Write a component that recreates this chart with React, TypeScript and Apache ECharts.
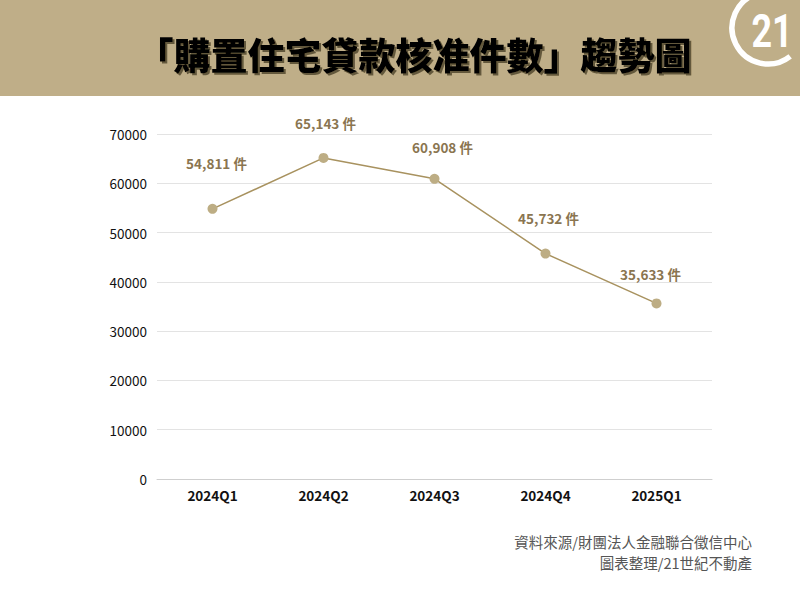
import React, { useEffect, useRef } from "react";
import * as echarts from "echarts";

const categories = ["2024Q1", "2024Q2", "2024Q3", "2024Q4", "2025Q1"];
const approvals = [54811, 65143, 60908, 45732, 35633];
const yTicks = [0, 10000, 20000, 30000, 40000, 50000, 60000, 70000];
const titleText = "「購置住宅貸款核准件數」趨勢圖";
const sourceLines = ["資料來源/財團法人金融聯合徵信中心", "圖表整理/21世紀不動產"];
const unit = "件";

const FONT = "'Noto Sans CJK TC', 'Noto Sans', sans-serif";

export default function App() {
  const ref = useRef<HTMLDivElement>(null);
  useEffect(() => {
    if (!ref.current) return;
    const chart = echarts.init(ref.current, null, { renderer: "svg" });
    const labelShift = [[4, -12], [2, -1], [8, 2], [3, -2], [-6, 4]];
    chart.setOption({
      animation: false,
      backgroundColor: "#ffffff",
      textStyle: { fontFamily: FONT },
      grid: { left: 157, right: 88, top: 134, bottom: 121 },
      xAxis: {
        type: "category",
        data: categories,
        boundaryGap: true,
        axisLine: { show: true, lineStyle: { color: "#cfcfcf", width: 1 } },
        axisTick: { show: false },
        axisLabel: { color: "#111", fontSize: 13.5, fontWeight: "bold", margin: 9, fontFamily: FONT },
      },
      yAxis: {
        type: "value",
        min: yTicks[0],
        max: yTicks[yTicks.length - 1],
        interval: 10000,
        axisLine: { show: false },
        axisTick: { show: false },
        axisLabel: {
          color: "#111",
          fontSize: 13.5,
          margin: 10,
          fontFamily: FONT,
          formatter: (v: number) => String(v),
        },
        splitLine: { lineStyle: { color: "#e3e3e3", width: 1 } },
      },
      series: [
        {
          type: "line",
          data: approvals.map((v, i) => ({
            value: v,
            label: { offset: labelShift[i] },
          })),
          symbol: "circle",
          symbolSize: 10,
          itemStyle: { color: "#bdad84" },
          lineStyle: { color: "#a8925f", width: 1.5 },
          label: {
            show: true,
            position: "top",
            distance: 22,
            color: "#8a7550",
            fontSize: 13.5,
            fontWeight: "bold",
            fontFamily: FONT,
            formatter: (p: any) => p.value.toLocaleString("en-US") + " " + unit,
          },
        },
      ],
      graphic: [
        {
          type: "rect",
          shape: { x: 0, y: 0, width: 800, height: 96 },
          style: { fill: "#bfae88" },
          z: -10,
        },
        {
          type: "text",
          x: 414,
          y: 54,
          style: {
            text: titleText,
            fill: "#000",
            font: "900 37px 'Noto Sans CJK TC', sans-serif",
            align: "center",
            verticalAlign: "middle",
            textShadowColor: "rgba(60,50,30,0.7)",
            textShadowOffsetX: 2,
            textShadowOffsetY: 2,
            textShadowBlur: 1,
          },
        },
        {
          type: "arc",
          shape: {
            cx: 768,
            cy: 28,
            r: 36,
            startAngle: (52 * Math.PI) / 180,
            endAngle: (255 * Math.PI) / 180,
            clockwise: true,
          },
          style: { stroke: "#ffffff", lineWidth: 5.5, fill: "none" },
        },
        {
          type: "text",
          x: 772,
          y: 31,
          scaleX: 0.78,
          style: {
            text: "21",
            fill: "#ffffff",
            font: "bold 46px 'Roboto', 'Noto Sans', sans-serif",
            align: "center",
            verticalAlign: "middle",
          },
        },
        {
          type: "text",
          x: 752,
          y: 541,
          style: {
            text: sourceLines[0],
            fill: "#555",
            font: "14.5px 'Noto Sans CJK TC', sans-serif",
            align: "right",
            verticalAlign: "middle",
          },
        },
        {
          type: "text",
          x: 752,
          y: 562,
          style: {
            text: sourceLines[1],
            fill: "#555",
            font: "14.5px 'Noto Sans CJK TC', sans-serif",
            align: "right",
            verticalAlign: "middle",
          },
        },
      ],
    });
    return () => chart.dispose();
  }, []);
  return (
    <div
      ref={ref}
      style={{ position: "fixed", left: 0, top: 0, width: 800, height: 600 }}
    />
  );
}
